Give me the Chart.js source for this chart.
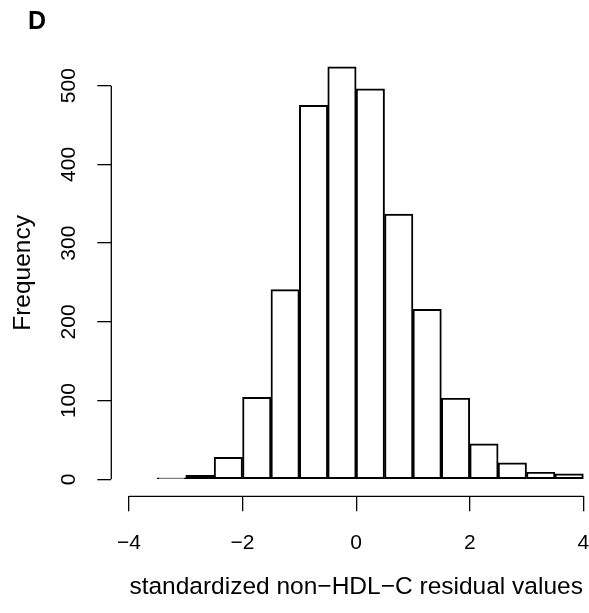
<!DOCTYPE html>
<html>
<head>
<meta charset="utf-8">
<script src="https://cdn.jsdelivr.net/npm/chart.js@4"></script>
<style>
  html, body { margin: 0; padding: 0; background: #fff; overflow: hidden; }
  /* plot region runs past the right edge of the window, like the cropped original */
  #wrap { width: 601px; height: 613px; position: relative; }
</style>
</head>
<body>
<div id="wrap"><canvas id="histChart"></canvas></div>
<script>
// histogram bins (left edges ... right edge) and counts
const breaks = [-3.5, -3, -2.5, -2, -1.5, -1, -0.5, 0, 0.5, 1, 1.5, 2, 2.5, 3, 3.5, 4];
const counts = [2, 5, 28, 104, 241, 475, 524, 496, 337, 216, 103, 45, 21, 9, 7];
const xTicks = [-4, -2, 0, 2, 4];
const yTicks = [0, 100, 200, 300, 400, 500];
const panelLabel = 'D';
const xTitle = 'standardized non\u2212HDL\u2212C residual values';
const yTitle = 'Frequency';

const points = counts.map((c, i) => ({ x: (breaks[i] + breaks[i + 1]) / 2, y: c }));
const FONT = '"Liberation Sans", Arial, sans-serif';

// R style detached axes: line only spans first..last tick
const rAxes = {
  id: 'rAxes',
  afterDraw(chart) {
    const { ctx, scales: { x, y }, chartArea } = chart;
    ctx.save();
    ctx.strokeStyle = '#000';
    ctx.lineWidth = 1.3;
    ctx.beginPath();
    ctx.moveTo(x.getPixelForValue(xTicks[0]), chartArea.bottom);
    ctx.lineTo(x.getPixelForValue(xTicks[xTicks.length - 1]), chartArea.bottom);
    ctx.moveTo(chartArea.left, y.getPixelForValue(yTicks[0]));
    ctx.lineTo(chartArea.left, y.getPixelForValue(yTicks[yTicks.length - 1]));
    ctx.stroke();
    ctx.fillStyle = '#000';
    ctx.font = 'bold 25px ' + FONT;
    ctx.textBaseline = 'alphabetic';
    ctx.textAlign = 'left';
    ctx.fillText(panelLabel, 28, 29);
    ctx.restore();
  }
};

const ctx = document.getElementById('histChart');
new Chart(ctx, {
  type: 'bar',
  data: {
    datasets: [{
      data: points,
      backgroundColor: 'rgba(255,255,255,0)',
      borderColor: '#000',
      borderWidth: 1.3,
      borderSkipped: false,
      barPercentage: 1,
      categoryPercentage: 1
    }]
  },
  options: {
    responsive: true,
    maintainAspectRatio: false,
    animation: false,
    layout: { padding: { left: 11, right: 0, top: 49.5, bottom: 14 } },
    plugins: {
      legend: { display: false },
      tooltip: { enabled: false }
    },
    scales: {
      x: {
        type: 'linear',
        offset: false,
        min: -4.311,
        max: 4.311,
        afterBuildTicks: s => { s.ticks = xTicks.map(v => ({ value: v })); },
        afterFit: s => { s.paddingLeft = 0; s.paddingRight = 0; },
        border: { display: false },
        grid: { offset: false, drawOnChartArea: false, drawTicks: true, tickLength: 15, color: '#000', lineWidth: 1.3 },
        ticks: {
          color: '#000',
          padding: 19,
          maxRotation: 0,
          font: { family: FONT, size: 21 },
          callback: v => (v < 0 ? '\u2212' + Math.abs(v) : String(v))
        },
        title: {
          display: true,
          text: xTitle,
          color: '#000',
          padding: { top: 0, bottom: 0 },
          font: { family: FONT, size: 24.5, lineHeight: 1.0 }
        }
      },
      y: {
        min: -21.6,
        max: 546,
        afterBuildTicks: s => { s.ticks = yTicks.map(v => ({ value: v })); },
        afterFit: s => { s.paddingTop = 0; s.paddingBottom = 0; },
        border: { display: false },
        grid: { drawOnChartArea: false, drawTicks: true, tickLength: 14, color: '#000', lineWidth: 1.3 },
        ticks: {
          color: '#000',
          padding: 10.8,
          minRotation: 90,
          maxRotation: 90,
          crossAlign: 'center',
          font: { family: FONT, size: 21 }
        },
        title: {
          display: true,
          text: yTitle,
          color: '#000',
          padding: { top: 0, bottom: 15 },
          font: { family: FONT, size: 24.5, lineHeight: 1.0 }
        }
      }
    }
  },
  plugins: [rAxes]
});
</script>
</body>
</html>
